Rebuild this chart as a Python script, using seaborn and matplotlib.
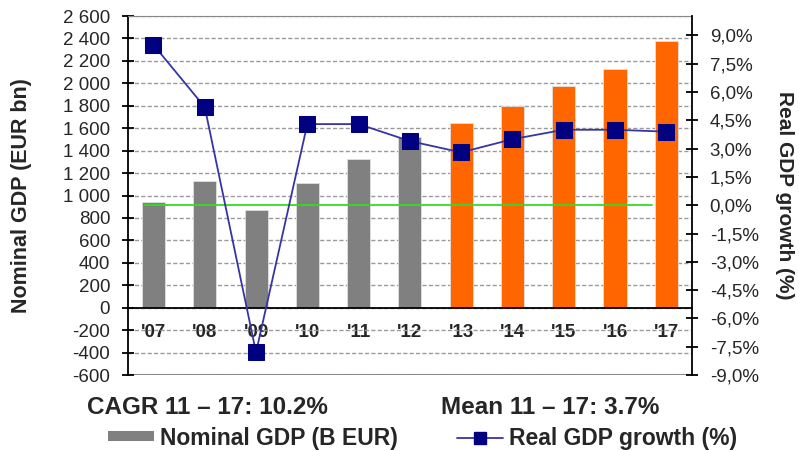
import numpy as np
import pandas as pd
import matplotlib
matplotlib.use('Agg')
import matplotlib.pyplot as plt
import matplotlib.ticker as mticker
from matplotlib.lines import Line2D
from matplotlib.patches import Patch
import seaborn as sns

# data
years = ["'07", "'08", "'09", "'10", "'11", "'12", "'13", "'14", "'15", "'16", "'17"]
nominal_gdp = [945, 1130, 875, 1115, 1325, 1525, 1650, 1800, 1980, 2130, 2375]
real_growth = [8.5, 5.2, -7.8, 4.3, 4.3, 3.4, 2.8, 3.5, 4.0, 4.0, 3.9]
phase = ['actual'] * 6 + ['forecast'] * 5
left_ticks = list(range(-600, 2601, 200))
right_ticks = [-9.0, -7.5, -6.0, -4.5, -3.0, -1.5, 0.0, 1.5, 3.0, 4.5, 6.0, 7.5, 9.0]

df = pd.DataFrame({'year': years, 'gdp': nominal_gdp, 'growth': real_growth, 'phase': phase})

sns.set_style('white')
plt.rcParams['font.family'] = ['Liberation Sans', 'DejaVu Sans']

fig = plt.figure(figsize=(7.99, 4.51), dpi=100)
ax = fig.add_axes([0.160, 0.1685, 0.706, 0.796])

sns.barplot(data=df, x='year', y='gdp', hue='phase',
            palette={'actual': '#808080', 'forecast': '#FF6600'}, saturation=1,
            dodge=False, width=0.45, legend=False, ax=ax,
            edgecolor='#e0e0e0', linewidth=0.6)

ax.set_ylim(-600, 2600)
ax.set_xlim(-0.5, len(years) - 0.5)
ax.set_yticks(left_ticks)
ax.yaxis.set_major_formatter(mticker.FuncFormatter(lambda v, p: f'{int(v):,}'.replace(',', ' ')))
ax.set_axisbelow(True)
ax.yaxis.grid(True, linestyle=(0, (3, 1.6)), color='#9a9a9a', linewidth=1.0)
ax.axhline(-600, color='#888888', linewidth=1.5, zorder=0)

ax.spines['bottom'].set_position(('data', 0))
ax.spines['bottom'].set_color('black')
ax.spines['bottom'].set_linewidth(1.3)
ax.spines['left'].set_color('black')
ax.spines['left'].set_linewidth(1.3)
ax.spines['top'].set_color('#888888')
ax.spines['right'].set_visible(False)

ax.set_xticks(np.arange(len(years)) + 0.5, minor=True)
ax.tick_params(axis='x', which='major', length=0, pad=12, labelsize=13.5)
ax.tick_params(axis='x', which='minor', direction='inout', length=9, width=1.3, color='black')
for lab in ax.get_xticklabels():
    lab.set_fontweight('bold')
ax.tick_params(axis='y', direction='inout', length=8.5, width=1.3, color='black',
               labelsize=13.5, pad=8.5, left=True)
ax.set_xlabel('')
ax.set_ylabel('Nominal GDP (EUR bn)', fontsize=15.5, fontweight='bold')
ax.yaxis.set_label_coords(-0.170, 0.5)

ax2 = ax.twinx()
ax2.axhline(0, xmin=0.030, xmax=0.929, color='#33DD22', linewidth=1.3)
sns.lineplot(data=df, x='year', y='growth', ax=ax2, color='#3535A5', linewidth=1.3,
             marker='s', markersize=11, markerfacecolor='#000080',
             markeredgecolor='#000080', sort=False)
ax2.set_ylim(-9, 10.03)
ax2.set_yticks(right_ticks)
ax2.yaxis.set_major_formatter(mticker.FuncFormatter(lambda v, p: f'{v:.1f}%'.replace('.', ',')))
ax2.tick_params(axis='y', direction='inout', length=8.5, width=1.3, color='black',
                labelsize=13.5, pad=8.5, right=True)
for s in ['top', 'left', 'bottom']:
    ax2.spines[s].set_visible(False)
ax2.spines['right'].set_color('black')
ax2.spines['right'].set_linewidth(1.3)
ax2.set_ylabel('Real GDP growth (%)', fontsize=15, fontweight='bold', rotation=270, va='center')
ax2.yaxis.set_label_coords(1.164, 0.5)
ax2.set_xlabel('')

fig.text(87 / 799, 1 - 407 / 451, 'CAGR 11 – 17: 10.2%', fontsize=17.5, fontweight='bold', va='center')
fig.text(441 / 799, 1 - 407 / 451, 'Mean 11 – 17: 3.7%', fontsize=17.5, fontweight='bold', va='center')

handles = [Patch(facecolor='#808080', edgecolor='none'),
           Line2D([], [], color='#3535A5', linewidth=1.3, marker='s', markersize=9,
                  markerfacecolor='#000080', markeredgecolor='#000080')]
fig.legend(handles, ['Nominal GDP (B EUR)', 'Real GDP growth (%)'], loc='center left',
           bbox_to_anchor=(108 / 799, 1 - 438 / 451), ncol=2, frameon=False,
           borderpad=0, borderaxespad=0, handlelength=2.0, handleheight=0.3,
           columnspacing=2.6, handletextpad=0.26, prop={'weight': 'bold', 'size': 16.5})

fig.savefig('out.png', dpi=100)
